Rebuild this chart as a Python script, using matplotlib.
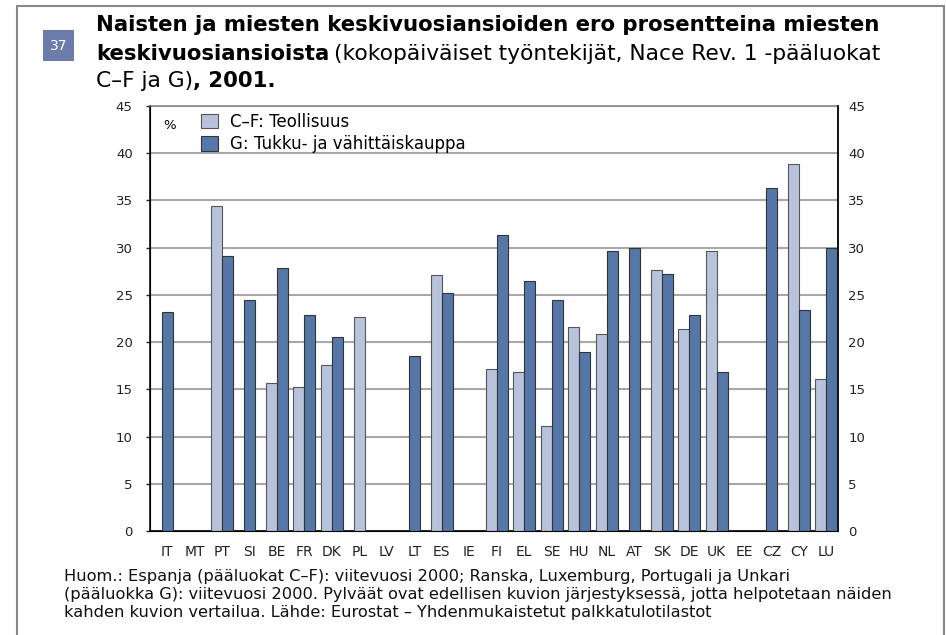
import numpy as np
import matplotlib
matplotlib.use("Agg")
import matplotlib.pyplot as plt
from matplotlib.patches import Rectangle, Patch

plt.rcParams['font.family'] = ['DejaVu Sans']

countries = ['IT', 'MT', 'PT', 'SI', 'BE', 'FR', 'DK', 'PL', 'LV', 'LT', 'ES', 'IE', 'FI',
             'EL', 'SE', 'HU', 'NL', 'AT', 'SK', 'DE', 'UK', 'EE', 'CZ', 'CY', 'LU']
# C-F: Teollisuus
teollisuus = [np.nan, np.nan, 34.4, np.nan, 15.7, 15.2, 17.6, 22.7, np.nan, np.nan, 27.1, np.nan, 17.2,
              16.8, 11.1, 21.6, 20.9, np.nan, 27.6, 21.4, 29.6, np.nan, np.nan, 38.9, 16.1]
# G: Tukku- ja vähittäiskauppa
kauppa = [23.2, np.nan, 29.1, 24.5, 27.8, 22.9, 20.5, np.nan, np.nan, 18.5, 25.2, np.nan, 31.3,
          26.5, 24.5, 19.0, 29.6, 30.0, 27.2, 22.9, 16.8, np.nan, 36.3, 23.4, 30.0]

light = '#B8C3DB'
dark = '#5577A8'
edge = '#333333'
TS = 15.35   # bold title size
TR = 15.7    # regular title size

fig = plt.figure(figsize=(9.46, 6.35), dpi=100)

# outer frame
fig.add_artist(Rectangle((17 / 946, -0.01), 927 / 946, 1 - 6 / 635 + 0.01, transform=fig.transFigure,
                         fill=False, edgecolor='#888888', linewidth=1.5))
# chart number box
fig.add_artist(Rectangle((43 / 946, 1 - 61 / 635), 31 / 946, 31 / 635, transform=fig.transFigure,
                         facecolor='#6B7BAA', edgecolor='none'))
fig.text(58.5 / 946, 1 - 46 / 635, '37', color='white', fontsize=10, ha='center', va='center')

fig.text(96 / 946, 1 - 25 / 635, 'Naisten ja miesten keskivuosiansioiden ero prosentteina miesten',
         fontsize=TS, fontweight='bold', va='center')
t2 = fig.text(96 / 946, 1 - 54 / 635, 'keskivuosiansioista', fontsize=TS, fontweight='bold', va='center')
fig.canvas.draw()
bb = t2.get_window_extent()
fig.text(bb.x1 / 946 + 0.005, 1 - 54 / 635,
         '(kokopäiväiset työntekijät, Nace Rev. 1 -pääluokat', fontsize=TR, va='center')
t3 = fig.text(96 / 946, 1 - 81 / 635, 'C–F ja G)', fontsize=TR, va='center')
fig.canvas.draw()
bb = t3.get_window_extent()
fig.text(bb.x1 / 946, 1 - 81 / 635, ', 2001.', fontsize=TS, fontweight='bold', va='center')

ax = fig.add_axes([150 / 946, 104 / 635, 688 / 946, 425 / 635])
x = np.arange(len(countries))
w = 0.4
for i in range(len(countries)):
    a, b = teollisuus[i], kauppa[i]
    if not np.isnan(a) and not np.isnan(b):
        ax.bar(x[i] - w / 2, a, w, color=light, edgecolor='#555555', linewidth=0.8, zorder=3)
        ax.bar(x[i] + w / 2, b, w, color=dark, edgecolor=edge, linewidth=0.8, zorder=3)
    elif not np.isnan(a):
        ax.bar(x[i], a, w, color=light, edgecolor='#555555', linewidth=0.8, zorder=3)
    elif not np.isnan(b):
        ax.bar(x[i], b, w, color=dark, edgecolor=edge, linewidth=0.8, zorder=3)

ax.set_xlim(-0.62, 24.42)
ax.set_ylim(0, 45)
ax.set_yticks(np.arange(0, 46, 5))
ax.yaxis.grid(True, color='#A8A8A8', linewidth=1.5, zorder=0)
ax.set_xticks(x)
ax.set_xticklabels(countries, fontsize=10, color='#222222')
ax.tick_params(axis='x', length=0, pad=10)
ax.tick_params(axis='y', labelsize=9.5, length=3, width=1, colors='#222222', pad=9.5)
ax.spines['top'].set_color('#888888')
ax.spines['top'].set_linewidth(1.2)
for s in ['left', 'right', 'bottom']:
    ax.spines[s].set_color('#111111')
    ax.spines[s].set_linewidth(1.2)

ax2 = ax.twinx()
ax2.set_ylim(0, 45)
ax2.set_yticks(np.arange(0, 46, 5))
ax2.tick_params(axis='y', labelsize=9.5, length=0, colors='#222222', pad=7.5)
ax2.spines['top'].set_visible(False)
ax2.spines['right'].set_color('#111111')
ax2.spines['right'].set_linewidth(1.2)

ax.text(0.019, 0.955, '%', transform=ax.transAxes, fontsize=9.5, va='center')
handles = [Patch(facecolor=light, edgecolor='#555555', linewidth=0.8, label='C–F: Teollisuus'),
           Patch(facecolor=dark, edgecolor=edge, linewidth=0.8, label='G: Tukku- ja vähittäiskauppa')]
ax.legend(handles=handles, loc='upper left', bbox_to_anchor=(0.065, 1.0), frameon=False,
          fontsize=12, handlelength=1.0, handleheight=1.0, handletextpad=0.7, labelspacing=0.26,
          borderaxespad=0)

note = ('Huom.: Espanja (pääluokat C–F): viitevuosi 2000; Ranska, Luxemburg, Portugali ja Unkari\n'
        '(pääluokka G): viitevuosi 2000. Pylväät ovat edellisen kuvion järjestyksessä, jotta helpotetaan näiden\n'
        'kahden kuvion vertailua. Lähde: Eurostat – Yhdenmukaistetut palkkatulotilastot')
fig.text(64 / 946, 1 - 595 / 635, note, fontsize=11.7, va='center', linespacing=1.25, color='#111111')

fig.savefig('out.png', dpi=100)
